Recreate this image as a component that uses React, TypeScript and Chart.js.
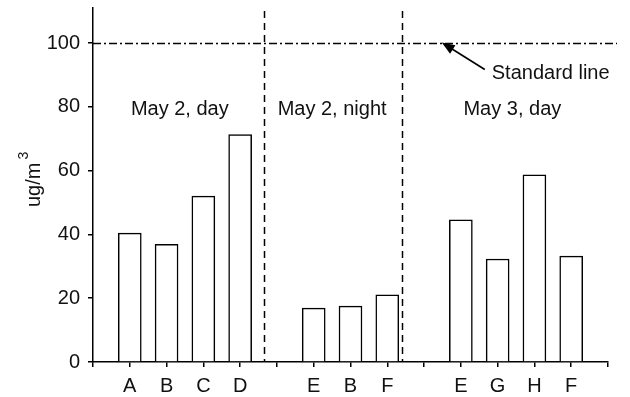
import { useEffect, useRef } from 'react';
import { Chart, registerables } from 'chart.js';

Chart.register(...registerables);

// ---- data ----
const categories = ['', 'A', 'B', 'C', 'D', '', 'E', 'B', 'F', '', 'E', 'G', 'H', 'F', ''];
const concentrations: (number | null)[] = [null, 40.4, 36.9, 52.0, 71.3, null, 16.9, 17.5, 21.1, null, 44.6, 32.3, 58.7, 33.2, null];
const yTicks = [0, 20, 40, 60, 80, 100];
const standardValue = 100;
const periodLabels = ['May 2, day', 'May 2, night', 'May 3, day'];
const periodDividers = [4.65, 8.39];
const standardLabel = 'Standard line';
const yTitle = 'ug/m';
const yTitleSup = '3';

const FONT = "'Liberation Sans', Arial, Helvetica, sans-serif";

const annotationPlugin = {
  id: 'annotations',
  afterDraw(chart: any) {
    const { ctx, chartArea } = chart;
    const xs = chart.scales.x;
    const ys = chart.scales.y;
    ctx.save();
    ctx.strokeStyle = '#000';
    ctx.fillStyle = '#111';
    ctx.lineWidth = 1.5;

    // period dividers (dashed)
    ctx.setLineDash([7, 5]);
    periodDividers.forEach((d) => {
      const px = Math.round(xs.getPixelForValue(d)) + 0.5;
      ctx.beginPath();
      ctx.moveTo(px, chartArea.top + 3);
      ctx.lineTo(px, chartArea.bottom);
      ctx.stroke();
    });

    // standard line (dash-dot)
    ctx.setLineDash([8, 3, 2, 3]);
    const sy = Math.round(ys.getPixelForValue(standardValue)) + 0.5;
    ctx.beginPath();
    ctx.moveTo(chartArea.left, sy);
    ctx.lineTo(chartArea.right + 9, sy);
    ctx.stroke();
    ctx.setLineDash([]);

    // arrow
    const hx = xs.getPixelForValue(9.48);
    const hy = sy - 1;
    const tx = xs.getPixelForValue(10.65);
    const ty = sy + 26;
    const ang = Math.atan2(hy - ty, hx - tx);
    ctx.lineWidth = 1.6;
    ctx.beginPath();
    ctx.moveTo(tx, ty);
    ctx.lineTo(hx - Math.cos(ang) * 8, hy - Math.sin(ang) * 8);
    ctx.stroke();
    ctx.beginPath();
    ctx.moveTo(hx, hy);
    ctx.lineTo(hx - Math.cos(ang) * 13 + Math.sin(ang) * 5, hy - Math.sin(ang) * 13 - Math.cos(ang) * 5);
    ctx.lineTo(hx - Math.cos(ang) * 13 - Math.sin(ang) * 5, hy - Math.sin(ang) * 13 + Math.cos(ang) * 5);
    ctx.closePath();
    ctx.fillStyle = '#000';
    ctx.fill();

    // texts
    ctx.fillStyle = '#111';
    ctx.font = `20px ${FONT}`;
    ctx.textBaseline = 'alphabetic';
    ctx.textAlign = 'left';
    ctx.fillText(standardLabel, xs.getPixelForValue(10.84), sy + 35);

    ctx.textAlign = 'center';
    const labelY = ys.getPixelForValue(80) + 8.5;
    const centers = [2.36, 6.5, 11.4];
    periodLabels.forEach((t, i) => {
      ctx.fillText(t, xs.getPixelForValue(centers[i]), labelY);
    });

    // y title with superscript
    ctx.save();
    ctx.translate(40, 207);
    ctx.rotate(-Math.PI / 2);
    ctx.textAlign = 'left';
    ctx.font = `20px ${FONT}`;
    ctx.fillText(yTitle, 0, 0);
    const w = ctx.measureText(yTitle).width;
    ctx.font = `14px ${FONT}`;
    ctx.fillText(yTitleSup, w + 3, -12);
    ctx.restore();

    ctx.restore();
  },
};

export default function App() {
  const ref = useRef<HTMLCanvasElement>(null);
  useEffect(() => {
    document.body.style.margin = '0';
    const canvas = ref.current!;
    const chart = new Chart(canvas, {
      type: 'bar',
      data: {
        labels: categories,
        datasets: [
          {
            data: concentrations,
            backgroundColor: '#fff',
            borderColor: '#000',
            borderWidth: 1.5,
            barThickness: 23,
          } as any,
        ],
      },
      options: {
        animation: false,
        responsive: false,
        layout: { padding: { top: 8, right: 22, left: 0, bottom: 0 } },
        plugins: { legend: { display: false }, tooltip: { enabled: false } },
        scales: {
          x: {
            offset: false,
            grid: { display: true, drawOnChartArea: false, offset: false, tickLength: 5, color: '#000', lineWidth: 1.5 },
            border: { color: '#000', width: 1.5 },
            ticks: { color: '#111', font: { family: FONT, size: 20 }, autoSkip: false, maxRotation: 0, padding: 7 },
            afterFit: (s: any) => {
              s.height = 35;
              s.paddingLeft = 0;
              s.paddingRight = 0;
            },
          },
          y: {
            min: 0,
            max: 111,
            grid: { display: true, drawOnChartArea: false, tickLength: 5, color: '#000', lineWidth: 1.5 },
            border: { color: '#000', width: 1.5 },
            ticks: { color: '#111', font: { family: FONT, size: 20 }, stepSize: 20, padding: 8 },
            afterBuildTicks: (s: any) => {
              s.ticks = yTicks.map((v) => ({ value: v }));
            },
            afterFit: (s: any) => {
              s.width = 93;
              s.paddingTop = 0;
              s.paddingBottom = 0;
            },
          },
        },
      } as any,
      plugins: [annotationPlugin],
    });
    return () => chart.destroy();
  }, []);
  return <canvas ref={ref} width={630} height={397} style={{ display: 'block' }} />;
}
